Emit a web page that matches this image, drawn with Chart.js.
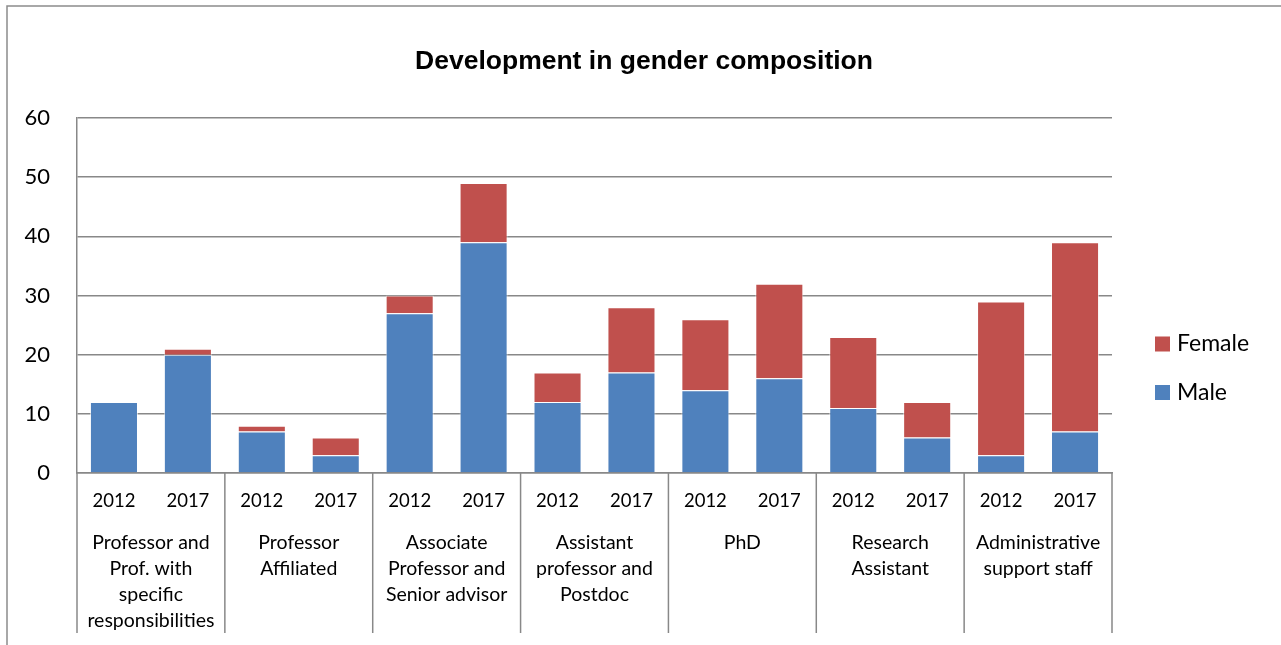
<!DOCTYPE html>
<html>
<head>
<meta charset="utf-8">
<script src="https://cdn.jsdelivr.net/npm/chart.js@4.4.0/dist/chart.umd.min.js"></script>
<style>
  html, body { margin: 0; padding: 0; background: #fff; }
  #wrap { position: relative; width: 1281px; height: 645px; }
</style>
</head>
<body>
<div id="wrap"><canvas id="chart"></canvas></div>
<script>
// data
const title = "Development in gender composition";
const years = ["2012", "2017"];
const groups = [
  ["Professor and", "Prof. with", "specific", "responsibilities"],
  ["Professor", "Affiliated"],
  ["Associate", "Professor and", "Senior advisor"],
  ["Assistant", "professor and", "Postdoc"],
  ["PhD"],
  ["Research", "Assistant"],
  ["Administrative", "support staff"]
];
const male   = [12, 20, 7, 3, 27, 39, 12, 17, 14, 16, 11, 6, 3, 7];
const female = [0, 1, 1, 3, 3, 10, 5, 11, 12, 16, 12, 6, 26, 32];
const yTicks = [0, 10, 20, 30, 40, 50, 60];

const labels = groups.flatMap(() => years);
const GRID = "#888888";
const FONT = "Lato, 'Open Sans', sans-serif";

// draws frame, title, group labels/separators and the legend on the right
const extras = {
  id: "extras",
  afterDraw(chart) {
    const ctx = chart.ctx;
    const x = chart.scales.x;
    const catW = (x.right - x.left) / labels.length;
    ctx.save();

    // outer frame (top + left only visible)
    ctx.strokeStyle = "#8c8c8c";
    ctx.lineWidth = 1.5;
    ctx.beginPath();
    ctx.moveTo(7, 645);
    ctx.lineTo(7, 6);
    ctx.lineTo(1281, 6);
    ctx.stroke();

    // title
    ctx.fillStyle = "#000";
    ctx.font = "bold 26.5px 'Liberation Sans', Arial, sans-serif";
    ctx.textAlign = "center";
    ctx.textBaseline = "middle";
    ctx.fillText(title, 644, 62);

    // group separators + names
    const sepBottom = 633;
    ctx.strokeStyle = GRID;
    ctx.lineWidth = 1.5;
    ctx.font = "19.5px " + FONT;
    groups.forEach((lines, g) => {
      const left = x.getPixelForValue(g * 2) - catW / 2;
      const right = x.getPixelForValue(g * 2 + 1) + catW / 2;
      ctx.beginPath();
      ctx.moveTo(left, x.top);
      ctx.lineTo(left, sepBottom);
      if (g === groups.length - 1) {
        ctx.moveTo(right, x.top);
        ctx.lineTo(right, sepBottom);
      }
      ctx.stroke();
      const cx = (left + right) / 2;
      lines.forEach((t, i) => ctx.fillText(t, cx, 543 + i * 26));
    });

    // legend (Female above Male)
    ctx.font = "23px " + FONT;
    ctx.textAlign = "left";
    const items = chart.data.datasets.slice().reverse();
    items.forEach((ds, i) => {
      const cy = 344 + i * 48.5;
      ctx.fillStyle = ds.backgroundColor;
      ctx.fillRect(1155, cy - 7.5, 15, 15);
      ctx.fillStyle = "#000";
      ctx.fillText(ds.label, 1177, cy);
    });
    ctx.restore();
  }
};

new Chart(document.getElementById("chart"), {
  type: "bar",
  data: {
    labels,
    datasets: [
      { label: "Male", data: male, backgroundColor: "#4F81BD",
        borderColor: "rgba(255,255,255,0.6)", borderWidth: 1 },
      { label: "Female", data: female, backgroundColor: "#C0504D",
        borderColor: "rgba(255,255,255,0.6)", borderWidth: 1 }
    ]
  },
  options: {
    responsive: true,
    maintainAspectRatio: false,
    animation: false,
    layout: { padding: { left: 0, right: 169, top: 118, bottom: 0 } },
    datasets: { bar: { categoryPercentage: 1, barPercentage: 0.65 } },
    plugins: {
      legend: { display: false },
      tooltip: { enabled: false },
      title: { display: false }
    },
    scales: {
      x: {
        stacked: true,
        grid: { display: false },
        border: { display: true, color: GRID, width: 1.5 },
        ticks: { color: "#000", font: { family: FONT, size: 18.5 }, padding: 9, maxRotation: 0 },
        afterFit(s) { s.height = 172; }
      },
      y: {
        stacked: true,
        min: 0,
        max: 60,
        afterBuildTicks(s) { s.ticks = yTicks.map(v => ({ value: v })); },
        grid: { color: GRID, lineWidth: 1.5, drawTicks: false },
        border: { display: true, color: GRID, width: 1.5 },
        ticks: { color: "#000", font: { family: FONT, size: 22 }, padding: 27 },
        afterFit(s) { s.width = 77; }
      }
    }
  },
  plugins: [extras]
});
</script>
</body>
</html>
